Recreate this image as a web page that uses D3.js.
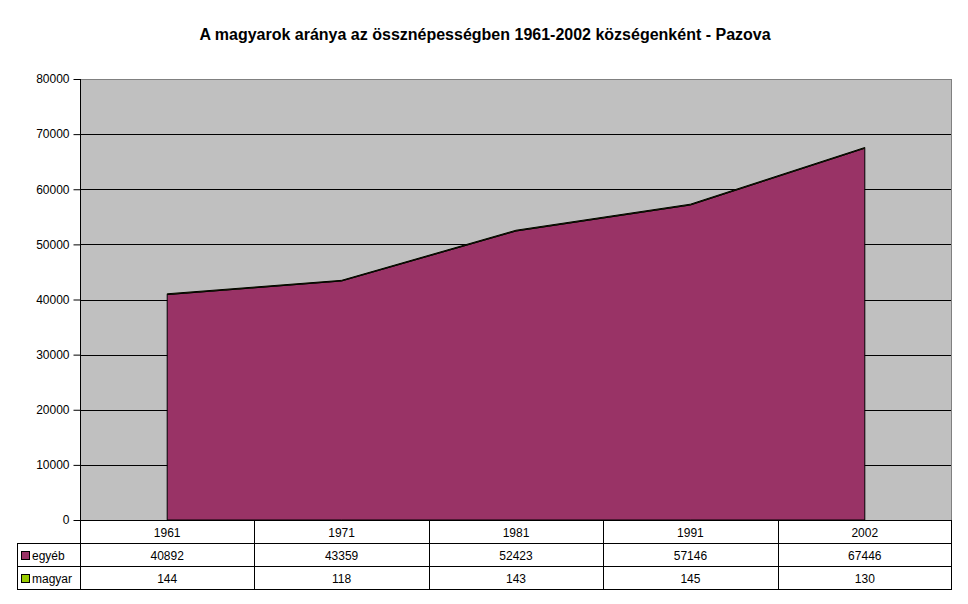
<!DOCTYPE html>
<html>
<head>
<meta charset="utf-8">
<script src="https://cdn.jsdelivr.net/npm/d3@7"></script>
<style>
  body { margin: 0; background: #fff; }
  text { font-family: Arial, 'Liberation Sans', sans-serif; fill: #000; }
</style>
</head>
<body>
<svg id="chart" width="968" height="604"></svg>
<script>
var years = ['1961', '1971', '1981', '1991', '2002'];
var egyeb = [40892, 43359, 52423, 57146, 67446];
var magyar = [144, 118, 143, 145, 130];
var seriesNames = ['egyéb', 'magyar'];
var seriesColors = ['#993366', '#99cc00'];
var yTicks = [0, 10000, 20000, 30000, 40000, 50000, 60000, 70000, 80000];

(function() {
  var svg = d3.select('#chart');

  var plotLeft = 80, plotRight = 952, plotTop = 79, plotBottom = 520,
      rowH = 23, legendLeft = 17;

  var x = d3.scaleBand().domain(years).range([plotLeft, plotRight]);
  var y = d3.scaleLinear().domain([0, 80000]).range([plotBottom, plotTop]);

  // title
  svg.append('text')
      .attr('x', 485)
      .attr('y', 40)
      .attr('text-anchor', 'middle')
      .style('font-size', '16px')
      .style('font-weight', 'bold')
      .text('A magyarok aránya az össznépességben 1961-2002 községenként - Pazova');

  // plot area
  svg.append('rect')
      .attr('x', plotLeft + 0.5)
      .attr('y', plotTop + 0.5)
      .attr('width', plotRight - plotLeft - 1)
      .attr('height', plotBottom - plotTop)
      .attr('fill', '#c0c0c0')
      .attr('stroke', '#808080')
      .attr('stroke-width', 1)
      .attr('shape-rendering', 'crispEdges');

  // gridlines
  svg.append('g')
      .selectAll('line')
      .data(yTicks.slice(1, -1))
      .join('line')
      .attr('x1', plotLeft)
      .attr('x2', plotRight - 1)
      .attr('y1', function(d) { return Math.round(y(d)) + 0.5; })
      .attr('y2', function(d) { return Math.round(y(d)) + 0.5; })
      .attr('stroke', '#000')
      .attr('shape-rendering', 'crispEdges');

  // stacked areas
  var table = years.map(function(yr, i) {
    return { year: yr, 'egyéb': egyeb[i], 'magyar': magyar[i] };
  });
  var stack = d3.stack().keys(seriesNames)(table);

  var area = d3.area()
      .x(function(d) { return x(d.data.year) + x.bandwidth() / 2; })
      .y0(function(d) { return y(d[0]); })
      .y1(function(d) { return y(d[1]); });

  svg.append('g')
      .selectAll('path')
      .data(stack)
      .join('path')
      .attr('d', area)
      .attr('fill', function(d, i) { return seriesColors[i]; })
      .attr('stroke', '#000')
      .attr('stroke-width', 1);

  // y axis
  var yAxis = d3.axisLeft(y)
      .tickValues(yTicks)
      .tickSize(7)
      .tickPadding(4)
      .tickFormat(d3.format('d'));

  var ga = svg.append('g')
      .attr('transform', 'translate(' + (plotLeft + 0.5) + ',0)')
      .call(yAxis);
  ga.selectAll('text').style('font-size', '12px').attr('fill', '#000');
  ga.selectAll('line').attr('stroke', '#000');
  ga.select('.domain').attr('stroke', '#000').attr('d', 'M0,' + plotTop + 'V' + plotBottom);

  // data table
  var tbl = svg.append('g').attr('shape-rendering', 'crispEdges');

  function hline(x1, x2, yy) {
    tbl.append('line').attr('x1', x1).attr('x2', x2)
        .attr('y1', yy + 0.5).attr('y2', yy + 0.5).attr('stroke', '#000');
  }
  function vline(xx, y1, y2) {
    tbl.append('line').attr('x1', xx + 0.5).attr('x2', xx + 0.5)
        .attr('y1', y1).attr('y2', y2).attr('stroke', '#000');
  }

  hline(plotLeft - 1, plotRight, plotBottom);
  hline(legendLeft, plotRight, plotBottom + rowH);
  hline(legendLeft, plotRight, plotBottom + 2 * rowH);
  hline(legendLeft, plotRight, plotBottom + 3 * rowH);
  vline(legendLeft, plotBottom + rowH, plotBottom + 3 * rowH + 1);
  years.forEach(function(yr) { vline(Math.round(x(yr)), plotBottom, plotBottom + 3 * rowH + 1); });
  vline(plotRight - 1, plotBottom, plotBottom + 3 * rowH + 1);

  // header row
  svg.append('g')
      .selectAll('text')
      .data(years)
      .join('text')
      .attr('x', function(d) { return x(d) + x.bandwidth() / 2; })
      .attr('y', plotBottom + 17)
      .attr('text-anchor', 'middle')
      .style('font-size', '12px')
      .text(function(d) { return d; });

  // value rows with legend keys
  [egyeb, magyar].forEach(function(vals, r) {
    var ry = plotBottom + (r + 1) * rowH;
    svg.append('g')
        .selectAll('text')
        .data(vals)
        .join('text')
        .attr('x', function(d, i) { return x(years[i]) + x.bandwidth() / 2; })
        .attr('y', ry + 17)
        .attr('text-anchor', 'middle')
        .style('font-size', '12px')
        .text(function(d) { return d; });

    svg.append('rect')
        .attr('x', 21.5)
        .attr('y', ry + 8.5)
        .attr('width', 8)
        .attr('height', 8)
        .attr('fill', seriesColors[r])
        .attr('stroke', '#000')
        .attr('shape-rendering', 'crispEdges');

    svg.append('text')
        .attr('x', 32)
        .attr('y', ry + 17)
        .style('font-size', '12px')
        .text(seriesNames[r]);
  });
})();
</script>
</body>
</html>
